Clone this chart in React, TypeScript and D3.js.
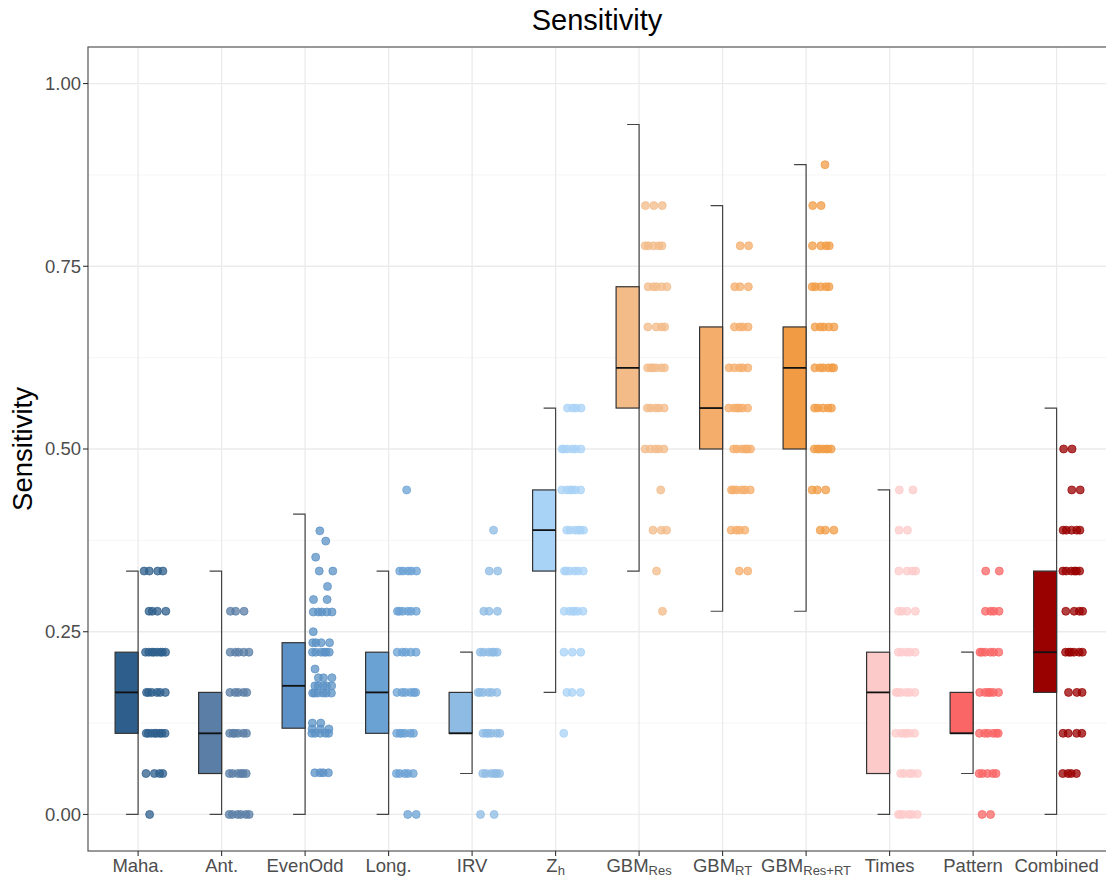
import React from 'react';
import { scaleLinear, range } from 'd3';

// category labels (base text + optional subscript)
const labels = ['Maha.', 'Ant.', 'EvenOdd', 'Long.', 'IRV', 'Z', 'GBM', 'GBM', 'GBM', 'Times', 'Pattern', 'Combined'];
const subs = ['', '', '', '', '', 'h', 'Res', 'RT', 'Res+RT', '', '', ''];
const colors = ['#2e5f8c', '#5a7ea6', '#5b91c6', '#6ba2d4', '#8ebbe4', '#a8d2f6',
  '#f3bb88', '#f5ad6b', '#f19c45', '#fdcaca', '#fa6565', '#990000'];

// whisker low/high, box q1/median/q3
const whiskLo = [0, 0, 0, 0, 0.056, 0.167, 0.333, 0.278, 0.278, 0, 0.056, 0];
const whiskHi = [0.333, 0.333, 0.411, 0.333, 0.222, 0.556, 0.944, 0.833, 0.889, 0.444, 0.222, 0.556];
const q1 = [0.111, 0.056, 0.118, 0.111, 0.111, 0.333, 0.556, 0.5, 0.5, 0.056, 0.111, 0.167];
const med = [0.167, 0.111, 0.176, 0.167, 0.111, 0.389, 0.611, 0.556, 0.611, 0.167, 0.111, 0.222];
const q3 = [0.222, 0.167, 0.235, 0.222, 0.167, 0.444, 0.722, 0.667, 0.667, 0.222, 0.167, 0.333];

// jittered points: [value, count] per level
const pts: [number, number][][] = [
  [[0.333, 4], [0.278, 4], [0.222, 8], [0.167, 6], [0.111, 8], [0.056, 4], [0, 1]],
  [[0.278, 3], [0.222, 5], [0.167, 5], [0.111, 6], [0.056, 6], [0, 6]],
  [[0.388, 1], [0.374, 1], [0.352, 1], [0.333, 2], [0.312, 1], [0.294, 2], [0.277, 5], [0.25, 1],
    [0.235, 4], [0.222, 6], [0.199, 1], [0.187, 3], [0.176, 5], [0.166, 6], [0.125, 2], [0.117, 3],
    [0.111, 5], [0.057, 4]],
  [[0.444, 1], [0.333, 5], [0.278, 6], [0.222, 5], [0.167, 6], [0.111, 6], [0.056, 5], [0, 2]],
  [[0.389, 1], [0.333, 2], [0.278, 3], [0.222, 6], [0.167, 6], [0.111, 6], [0.056, 6], [0, 2]],
  [[0.556, 4], [0.5, 6], [0.444, 6], [0.389, 6], [0.333, 6], [0.278, 6], [0.222, 3], [0.167, 3], [0.111, 1]],
  [[0.833, 3], [0.778, 5], [0.722, 5], [0.667, 4], [0.611, 6], [0.556, 5], [0.5, 5], [0.444, 1],
    [0.389, 3], [0.333, 1], [0.278, 1]],
  [[0.778, 2], [0.722, 3], [0.667, 4], [0.611, 5], [0.556, 6], [0.5, 6], [0.444, 6], [0.389, 4], [0.333, 2]],
  [[0.889, 1], [0.833, 2], [0.778, 4], [0.722, 5], [0.667, 5], [0.611, 6], [0.556, 5], [0.5, 7],
    [0.444, 3], [0.389, 3]],
  [[0.444, 2], [0.389, 2], [0.333, 4], [0.278, 4], [0.222, 5], [0.167, 6], [0.111, 6], [0.056, 5], [0, 6]],
  [[0.333, 2], [0.278, 4], [0.222, 6], [0.167, 6], [0.111, 6], [0.056, 5], [0, 2]],
  [[0.5, 2], [0.444, 2], [0.389, 5], [0.333, 6], [0.278, 4], [0.222, 6], [0.167, 3], [0.111, 4], [0.056, 4]],
];

const yTicks = [0, 0.25, 0.5, 0.75, 1];
const yMinor = [0.125, 0.375, 0.625, 0.875];

const W = 1106, H = 879;
const left = 88, top = 47, bottom = 851, right = 1106.7;
const font = '"Liberation Sans", Arial, sans-serif';

export default function App() {
  const x = scaleLinear().domain([-0.6, labels.length - 0.4]).range([left, right]);
  const y = scaleLinear().domain([-0.05, 1.05]).range([bottom, top]);

  return (
    <svg width={W} height={H} style={{ position: 'absolute', left: 0, top: 0, background: '#fff' }}>
      {/* grid */}
      {yMinor.map(v => (
        <line key={'mn' + v} x1={left} x2={W} y1={y(v)} y2={y(v)} stroke="#f2f2f2" strokeWidth={0.8} />
      ))}
      {yTicks.map(v => (
        <line key={'mj' + v} x1={left} x2={W} y1={y(v)} y2={y(v)} stroke="#ebebeb" strokeWidth={1.3} />
      ))}
      {labels.map((_, i) => (
        <line key={'vg' + i} x1={x(i)} x2={x(i)} y1={top} y2={bottom} stroke="#ebebeb" strokeWidth={1.3} />
      ))}

      {/* groups */}
      {labels.map((_, i) => {
        const cx = x(i);
        return (
          <g key={'grp' + i}>
            <path
              d={`M${cx - 12},${y(whiskHi[i])}H${cx}V${y(whiskLo[i])}H${cx - 12}`}
              fill="none" stroke="#444" strokeWidth={1.2} />
            <rect x={cx - 23} width={23} y={y(q3[i])} height={y(q1[i]) - y(q3[i])}
              fill={colors[i]} stroke="#333" strokeWidth={1.2} />
            <line x1={cx - 23} x2={cx} y1={y(med[i])} y2={y(med[i])} stroke="#111" strokeWidth={1.8} />
            {pts[i].map(([v, n], li) =>
              range(n).map(j => {
                const off = n === 1
                  ? 8 + ((li * 0.37 + i * 0.21) % 1) * 16
                  : 6 + ((j * 0.618 + li * 0.37 + i * 0.13) % 1) * 22;
                return (
                  <circle key={`p${li}-${j}`} cx={cx + off} cy={y(v)} r={4}
                    fill={colors[i]} fillOpacity={0.75} stroke={colors[i]} strokeOpacity={0.9} strokeWidth={0.8} />
                );
              })
            )}
          </g>
        );
      })}

      {/* panel border */}
      <rect x={left} y={top} width={right - left} height={bottom - top} fill="none" stroke="#555" strokeWidth={1.2} />

      {/* y axis */}
      {yTicks.map(v => (
        <g key={'yt' + v}>
          <line x1={left - 5} x2={left} y1={y(v)} y2={y(v)} stroke="#333" strokeWidth={1.1} />
          <text x={left - 7} y={y(v)} dy="0.35em" textAnchor="end" fontFamily={font} fontSize={18.5} fill="#4d4d4d">
            {v.toFixed(2)}
          </text>
        </g>
      ))}

      {/* x axis */}
      {labels.map((lab, i) => (
        <g key={'xt' + i}>
          <line x1={x(i)} x2={x(i)} y1={bottom} y2={bottom + 5} stroke="#333" strokeWidth={1.1} />
          <text x={x(i)} y={bottom + 21} textAnchor="middle" fontFamily={font} fontSize={18.5} fill="#4d4d4d">
            {lab}
            {subs[i] && <tspan fontSize={13} dy={3}>{subs[i]}</tspan>}
          </text>
        </g>
      ))}

      {/* titles */}
      <text x={597} y={30} textAnchor="middle" fontFamily={font} fontSize={29} fill="#000">Sensitivity</text>
      <text transform={`translate(32,${(top + bottom) / 2}) rotate(-90)`} textAnchor="middle"
        fontFamily={font} fontSize={27.5} fill="#000">Sensitivity</text>
    </svg>
  );
}
